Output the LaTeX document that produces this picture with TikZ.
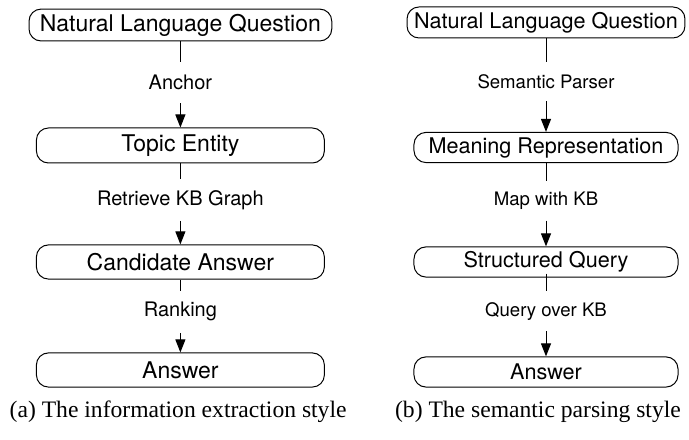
\documentclass[tikz,border=0pt]{standalone}
\usepackage{fontspec}
\setmainfont{Liberation Serif}
\setsansfont{TeX Gyre Heros}
\usetikzlibrary{arrows.meta}

\begin{document}
\begin{tikzpicture}[>={Triangle[length=6.5pt,width=5pt]},line width=0.5pt,
 lbox/.style={draw,rounded corners=6pt,inner sep=0pt,font=\sffamily\fontsize{11.5}{13}\selectfont,minimum width=5.06cm,minimum height=0.6cm},
 rbox/.style={draw,rounded corners=6pt,inner sep=0pt,font=\sffamily\fontsize{10.8}{12}\selectfont,minimum width=4.64cm,minimum height=0.53cm},
 llab/.style={inner sep=0pt,font=\sffamily\fontsize{10}{12}\selectfont,minimum height=0.72cm},
 rlab/.style={inner sep=0pt,font=\sffamily\fontsize{9.3}{11}\selectfont,minimum height=0.68cm},
 captext/.style={inner sep=0pt,font=\fontsize{11.8}{14}\selectfont}]
\useasboundingbox (0,0) rectangle (12.108,-7.732);
% (a) information extraction
\node[lbox,minimum width=5.32cm,minimum height=0.56cm] (aq) at (3.17,-0.44) {Natural Language Question};
\node[lbox,minimum height=0.615cm] (at) at (3.17,-2.557) {Topic Entity};
\node[lbox] (ac) at (3.17,-4.604) {Candidate Answer};
\node[lbox] (aa) at (3.17,-6.502) {Answer};
\node[llab] (l1) at (3.17,-1.45) {Anchor};
\node[llab] (l2) at (3.17,-3.515) {Retrieve KB Graph};
\node[llab] (l3) at (3.17,-5.48) {Ranking};
\draw (aq.south) -- (l1.north);
\draw[->] (l1.south) -- (at.north);
\draw (at.south) -- (l2.north);
\draw[->] (l2.south) -- (ac.north);
\draw (ac.south) -- (l3.north);
\draw[->] (l3.south) -- (aa.north);
\node[captext] (ca) at (3.13,-7.24) {(a) The information extraction style};
% (b) semantic parsing
\node[rbox,minimum width=4.885cm,minimum height=0.545cm] (bq) at (9.595,-0.395) {Natural Language Question};
\node[rbox] (bm) at (9.595,-2.592) {Meaning Representation};
\node[rbox] (bs) at (9.595,-4.604) {Structured Query};
\node[rbox] (ba) at (9.595,-6.537) {Answer};
\node[rlab] (r1) at (9.595,-1.43) {Semantic Parser};
\node[rlab] (r2) at (9.595,-3.53) {Map with KB};
\node[rlab] (r3) at (9.595,-5.47) {Query over KB};
\draw (bq.south) -- (r1.north);
\draw[->] (r1.south) -- (bm.north);
\draw (bm.south) -- (r2.north);
\draw[->] (r2.south) -- (bs.north);
\draw ([yshift=0.07cm]bs.south) -- (r3.north);
\draw[->] (r3.south) -- (ba.north);
\node[captext] (cb) at (9.454,-7.24) {(b) The semantic parsing style};
\end{tikzpicture}
\end{document}
